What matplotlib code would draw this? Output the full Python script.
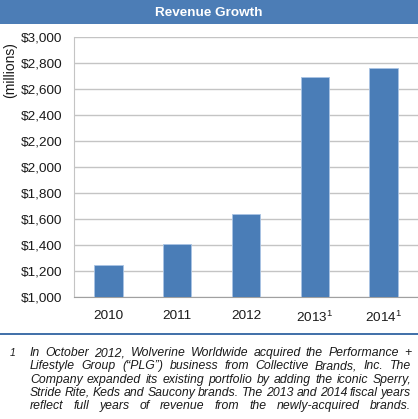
import numpy as np
import matplotlib.pyplot as plt
from matplotlib.lines import Line2D
from matplotlib.patches import Rectangle

plt.rcParams['font.family'] = ['Liberation Sans', 'DejaVu Sans']
plt.rcParams['mathtext.fontset'] = 'custom'
plt.rcParams['mathtext.rm'] = 'Liberation Sans'

# data
years = ['2010', '2011', '2012', '2013$^{\\mathregular{1}}$', '2014$^{\\mathregular{1}}$']
revenue = [1248.5, 1409.1, 1640.8, 2691.1, 2761.1]
yticks = [1000, 1200, 1400, 1600, 1800, 2000, 2200, 2400, 2600, 2800, 3000]
note_lines = [
    "In October 2012, Wolverine Worldwide acquired the Performance +",
    "Lifestyle Group (\u201cPLG\u201d) business from Collective Brands, Inc. The",
    "Company expanded its existing portfolio by adding the iconic Sperry,",
    "Stride Rite, Keds and Saucony brands. The 2013 and 2014 fiscal years",
    "reflect full years of revenue from the newly-acquired brands.",
]

W, H = 418, 419
blue = '#4a7db7'
fig = plt.figure(figsize=(W / 100, H / 100), dpi=100)

# title banner
fig.patches.append(Rectangle((0, 1 - 24 / H), 1, 24 / H, transform=fig.transFigure,
                             facecolor='#4c7db6', edgecolor='none'))
fig.text(0.5, 1 - 12.5 / H, 'Revenue Growth', ha='center', va='center',
         color='white', fontsize=9.7, fontweight='bold')

# chart
ax = fig.add_axes([74 / W, (H - 297) / H, 344 / W, 260 / H])
x = np.arange(len(years))
ax.bar(x, revenue, width=0.41, color=blue, edgecolor='#a9c4e4', linewidth=0.6,
       zorder=3)
ax.set_xlim(-0.5, 4.5)
ax.set_ylim(1000, 3000)
ax.set_yticks(yticks)
ax.set_yticklabels(['${:,}'.format(v).replace('$', '\\$') for v in yticks])
ax.set_xticks(x)
ax.set_xticklabels(years)
ax.grid(axis='y', color='#c4c4c4', linewidth=1.0, zorder=0)
ax.tick_params(axis='both', length=0, labelsize=9.7, colors='#1a1a1a')
ax.tick_params(axis='y', pad=8.5)
ax.tick_params(axis='x', pad=9)
for s in ['top', 'right']:
    ax.spines[s].set_visible(False)
ax.spines['left'].set_color('#c4c4c4')
ax.spines['bottom'].set_color('#a0a0a0')
fig.text(10 / W, 1 - 70 / H, '(millions)', rotation=90, ha='center', va='center',
         fontsize=10, color='#1a1a1a')

# separator
fig.lines.append(Line2D([0, 1], [1 - 334 / H] * 2, transform=fig.transFigure,
                        color='#3f6fa8', linewidth=1.4))

# footnote, justified
fig.text(13 / W, 1 - 353 / H, '1', ha='center', va='center', fontsize=7.5,
         style='italic', color='#1a1a1a')
renderer = fig.canvas.get_renderer()
x0, x1 = 30, 411
for i, line in enumerate(note_lines):
    y = 1 - (353 + i * 13.3) / H
    words = line.split()
    texts = [fig.text(0, y, w, ha='left', va='center', fontsize=8.8,
                      style='italic', color='#1a1a1a') for w in words]
    widths = [t.get_window_extent(renderer).width for t in texts]
    gap = (x1 - x0 - sum(widths)) / (len(words) - 1)
    pos = x0
    for t, w in zip(texts, widths):
        t.set_x(pos / W)
        pos += w + gap

fig.savefig('out.png', dpi=100)
